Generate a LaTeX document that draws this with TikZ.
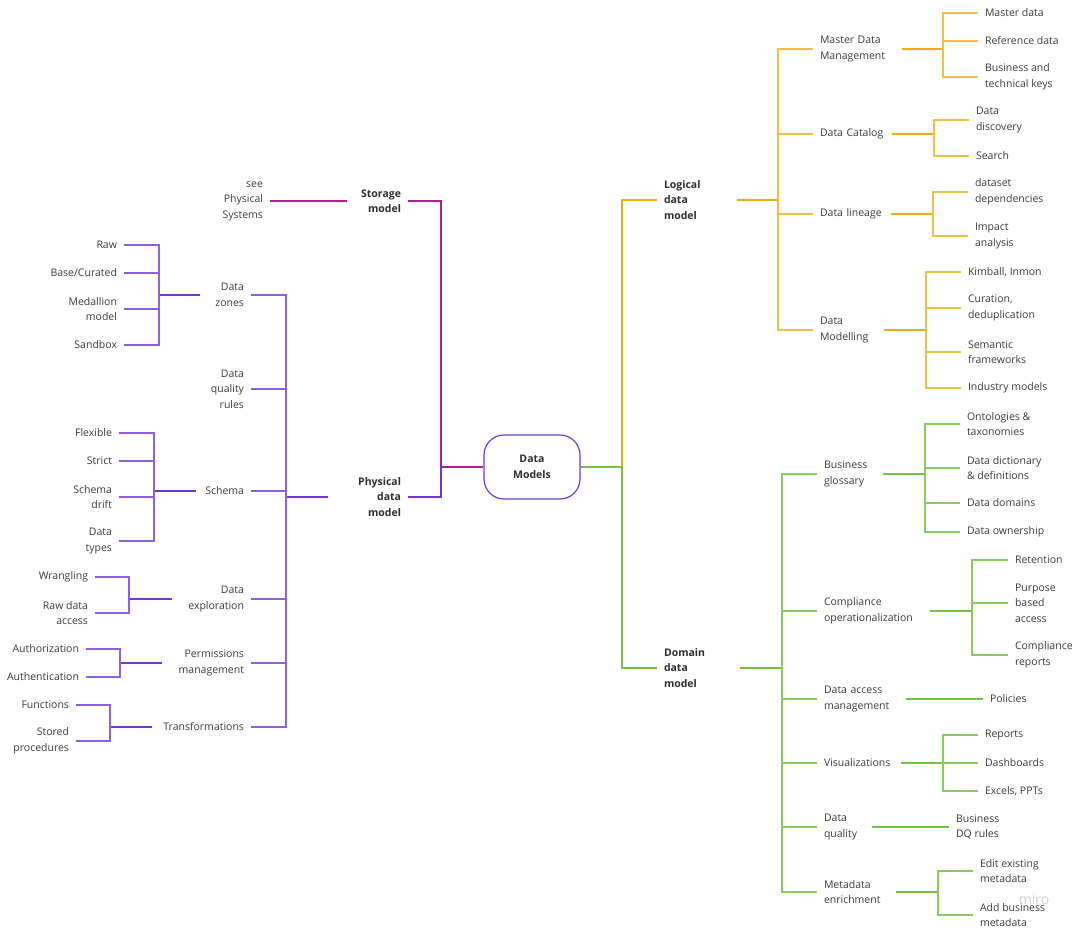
\documentclass[tikz,border=0pt]{standalone}
\usepackage{fontspec}
\setmainfont{Open Sans}
\usepackage{tikz}
\usetikzlibrary{arrows.meta, calc}
\definecolor{dmmagenta}{RGB}{176, 30, 140}
\definecolor{dmviolet}{RGB}{112, 56, 214}
\definecolor{dmorange}{RGB}{236, 172, 22}
\definecolor{dmgreen}{RGB}{112, 196, 64}
\definecolor{dmtext}{RGB}{58, 58, 58}
\definecolor{dmhub}{RGB}{45, 45, 45}

\begin{document}
\begin{tikzpicture}[x=1pt, y=-1pt,
    base/.style={font=\fontsize{10.5}{15.5}\selectfont, text=dmtext,
                 inner xsep=7pt, inner ysep=2pt, outer sep=0pt},
    ltext/.style={base, anchor=east, align=right},
    rtext/.style={base, anchor=west, align=left},
    lhub/.style={ltext, font=\fontsize{10.5}{15.5}\selectfont\bfseries, text=dmhub},
    rhub/.style={rtext, font=\fontsize{10.5}{15.5}\selectfont\bfseries, text=dmhub},
    tw/.style={text width=#1},
    link/.style={line width=1.2pt},
    trunk/.style={line width=2pt}]

\useasboundingbox (0,0) rectangle (1076,929);

% ============================================================
% RAIZ
% ============================================================
\node[draw=dmviolet, line width=1.2pt, rounded corners=20pt,
      minimum width=96pt, minimum height=64pt, align=center,
      font=\fontsize{10.5}{15.5}\selectfont\bfseries, text=dmhub] (root) at (532,467) {Data\\Models};

% ============================================================
% LADO IZQUIERDO -- storage / physical
% ============================================================
\node[lhub, tw=47pt] (storage) at (408,201) {Storage\\model};
\node[ltext] (see) at (270,201) {see\\Physical\\Systems};
\node[lhub, tw=66pt] (phys) at (408,497) {Physical\\data\\model};

\coordinate (lbus) at (441,467);
\draw[link, dmmagenta] (root.west) -- (lbus) |- (storage.east);
\draw[link, dmviolet] (lbus) |- (phys.east);
\draw[link, dmmagenta] (storage.west) -- (see.east);

% --- ramas del physical data model ---
\node[ltext, tw=37pt] (zones) at (251,295) {Data\\zones};
\node[ltext] (dqr) at (251,389) {Data\\quality\\rules};
\node[ltext, tw=41pt] (schema) at (251,491) {Schema};
\node[ltext, tw=65pt] (explore) at (251,599) {Data\\exploration};
\node[ltext, tw=75pt] (perms) at (251,663) {Permissions\\management};
\node[ltext, tw=85pt] (transf) at (251,727) {Transformations};

\coordinate (pbus) at (286,497);
\draw[trunk, dmviolet] (phys.west) -- (pbus);
\foreach \n in {zones, dqr, schema, explore, perms, transf}
  \draw[link, dmviolet!80] (pbus) |- (\n.east);

% Data zones
\node[ltext] (raw) at (124,245) {Raw};
\node[ltext] (base) at (124,273) {Base/Curated};
\node[ltext] (medal) at (124,309) {Medallion\\model};
\node[ltext] (sandbox) at (124,345) {Sandbox};
\coordinate (zbus) at (159,295);
\draw[trunk, dmviolet] (zones.west) -- (zbus);
\foreach \n in {raw, base, medal, sandbox}
  \draw[link, dmviolet!80] (zbus) |- (\n.east);

% Schema
\node[ltext] (flex) at (119,433) {Flexible};
\node[ltext] (strict) at (119,461) {Strict};
\node[ltext] (drift) at (119,497) {Schema\\drift};
\node[ltext] (types) at (119,541) {Data\\types};
\coordinate (sbus) at (154,491);
\draw[trunk, dmviolet] (schema.west) -- (sbus);
\foreach \n in {flex, strict, drift, types}
  \draw[link, dmviolet!80] (sbus) |- (\n.east);

% Data exploration
\node[ltext] (wrang) at (95,577) {Wrangling};
\node[ltext] (rawacc) at (95,613) {Raw data\\access};
\coordinate (ebus) at (129,599);
\draw[trunk, dmviolet] (explore.west) -- (ebus);
\foreach \n in {wrang, rawacc}
  \draw[link, dmviolet!80] (ebus) |- (\n.east);

% Permissions management
\node[ltext] (authz) at (86,649) {Authorization};
\node[ltext] (authn) at (86,677) {Authentication};
\coordinate (pmbus) at (120,663);
\draw[trunk, dmviolet] (perms.west) -- (pmbus);
\foreach \n in {authz, authn}
  \draw[link, dmviolet!80] (pmbus) |- (\n.east);

% Transformations
\node[ltext] (func) at (76,705) {Functions};
\node[ltext] (stored) at (76,741) {Stored\\procedures};
\coordinate (tbus) at (110,727);
\draw[trunk, dmviolet] (transf.west) -- (tbus);
\foreach \n in {func, stored}
  \draw[link, dmviolet!80] (tbus) |- (\n.east);

% ============================================================
% LADO DERECHO -- logical / domain
% ============================================================
\node[rhub, tw=66pt] (logical) at (657,200) {Logical\\data\\model};
\node[rhub, tw=69pt] (domain) at (657,668) {Domain\\data\\model};

\coordinate (rbus) at (622,467);
\draw[link, dmgreen] (root.east) -- (rbus) |- (domain.west);
\draw[link, dmorange] (rbus) |- (logical.west);

% --- ramas del logical data model ---
\node[rtext, tw=75pt] (mdm) at (813,49) {Master Data\\Management};
\node[rtext, tw=65pt] (catalog) at (813,134) {Data Catalog};
\node[rtext, tw=64pt] (lineage) at (813,214) {Data lineage};
\node[rtext, tw=57pt] (modelling) at (813,330) {Data\\Modelling};

\coordinate (lgbus) at (778,200);
\draw[trunk, dmorange] (logical.east) -- (lgbus);
\foreach \n in {mdm, catalog, lineage, modelling}
  \draw[link, dmorange!80] (lgbus) |- (\n.west);

% Master Data Management
\node[rtext] (master) at (978,13) {Master data};
\node[rtext] (refdata) at (978,41) {Reference data};
\node[rtext] (keys) at (978,77) {Business and\\technical keys};
\coordinate (mdmbus) at (943,49);
\draw[trunk, dmorange] (mdm.east) -- (mdmbus);
\foreach \n in {master, refdata, keys}
  \draw[link, dmorange!80] (mdmbus) |- (\n.west);

% Data Catalog
\node[rtext] (discovery) at (969,120) {Data\\discovery};
\node[rtext] (search) at (969,156) {Search};
\coordinate (cbus) at (934,134);
\draw[trunk, dmorange] (catalog.east) -- (cbus);
\foreach \n in {discovery, search}
  \draw[link, dmorange!80] (cbus) |- (\n.west);

% Data lineage
\node[rtext] (depend) at (968,192) {dataset\\dependencies};
\node[rtext] (impact) at (968,236) {Impact\\analysis};
\coordinate (libus) at (933,214);
\draw[trunk, dmorange] (lineage.east) -- (libus);
\foreach \n in {depend, impact}
  \draw[link, dmorange!80] (libus) |- (\n.west);

% Data Modelling
\node[rtext] (kimball) at (961,272) {Kimball, Inmon};
\node[rtext] (curation) at (961,308) {Curation,\\deduplication};
\node[rtext] (semantic) at (961,352) {Semantic\\frameworks};
\node[rtext] (industry) at (961,388) {Industry models};
\coordinate (mobus) at (926,330);
\draw[trunk, dmorange] (modelling.east) -- (mobus);
\foreach \n in {kimball, curation, semantic, industry}
  \draw[link, dmorange!80] (mobus) |- (\n.west);

% --- ramas del domain data model ---
\node[rtext, tw=52pt] (glossary) at (817,474) {Business\\glossary};
\node[rtext, tw=99pt] (compliance) at (817,611) {Compliance\\operationalization};
\node[rtext, tw=75pt] (access) at (817,699) {Data access\\management};
\node[rtext, tw=70pt] (visual) at (817,763) {Visualizations};
\node[rtext, tw=41pt] (dq) at (817,827) {Data\\quality};
\node[rtext, tw=65pt] (meta) at (817,892) {Metadata\\enrichment};

\coordinate (dbus) at (782,668);
\draw[trunk, dmgreen] (domain.east) -- (dbus);
\foreach \n in {glossary, compliance, access, visual, dq, meta}
  \draw[link, dmgreen!85] (dbus) |- (\n.west);

% Business glossary
\node[rtext] (ontol) at (960,424) {Ontologies \&\\taxonomies};
\node[rtext] (dict) at (960,468) {Data dictionary\\\& definitions};
\node[rtext] (domains) at (960,503) {Data domains};
\node[rtext] (owner) at (960,532) {Data ownership};
\coordinate (gbus) at (925,474);
\draw[trunk, dmgreen] (glossary.east) -- (gbus);
\foreach \n in {ontol, dict, domains, owner}
  \draw[link, dmgreen!85] (gbus) |- (\n.west);

% Compliance operationalization
\node[rtext] (retention) at (1008,560) {Retention};
\node[rtext] (purpose) at (1008,603) {Purpose\\based\\access};
\node[rtext] (creports) at (1008,655) {Compliance\\reports};
\coordinate (cobus) at (972,611);
\draw[trunk, dmgreen] (compliance.east) -- (cobus);
\foreach \n in {retention, purpose, creports}
  \draw[link, dmgreen!85] (cobus) |- (\n.west);

% Data access management
\node[rtext] (policies) at (983,699) {Policies};
\draw[trunk, dmgreen] (access.east) -- (policies.west);

% Visualizations
\node[rtext] (reports) at (978,735) {Reports};
\node[rtext] (dash) at (978,763) {Dashboards};
\node[rtext] (excels) at (978,791) {Excels, PPTs};
\coordinate (vbus) at (943,763);
\draw[trunk, dmgreen] (visual.east) -- (vbus);
\foreach \n in {reports, dash, excels}
  \draw[link, dmgreen!85] (vbus) |- (\n.west);

% Data quality
\node[rtext] (bdq) at (949,827) {Business\\DQ rules};
\draw[trunk, dmgreen] (dq.east) -- (bdq.west);

% Metadata enrichment
\node[rtext] (edit) at (973,871) {Edit existing\\metadata};
\node[rtext] (addbiz) at (973,915) {Add business\\metadata};
\coordinate (mebus) at (938,892);
\draw[trunk, dmgreen] (meta.east) -- (mebus);
\foreach \n in {edit, addbiz}
  \draw[link, dmgreen!85] (mebus) |- (\n.west);

% marca de agua
\node[font=\fontsize{14}{14}\selectfont, text=black!18] (miro) at (1034,899) {miro};

\end{tikzpicture}
\end{document}
